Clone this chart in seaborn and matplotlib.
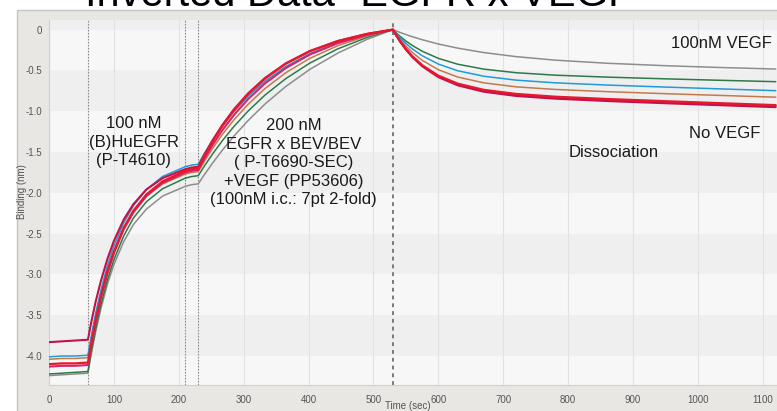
import matplotlib
matplotlib.use("Agg")
import matplotlib.pyplot as plt
import seaborn as sns
import pandas as pd
from matplotlib.patches import Rectangle
from matplotlib.ticker import MultipleLocator, FuncFormatter

# ---------------- data ----------------
time_sec = [0, 20, 40,
            60, 65, 72, 80, 90, 100, 115, 130, 150, 175, 210,
            220, 230,
            240, 252, 267, 285, 307, 333, 365, 402, 445, 490, 530,
            535, 542, 550, 560, 575, 600, 630, 670, 720, 780, 860, 950, 1030, 1120]

gray = [-4.24, -4.23, -4.22,
        -4.21, -3.98, -3.70, -3.42, -3.12, -2.88, -2.60, -2.39, -2.20, -2.04, -1.92,
        -1.90, -1.89,
        -1.771, -1.637, -1.479, -1.305, -1.113, -0.911, -0.696, -0.487, -0.288, -0.120, 0.0,
        -0.016, -0.037, -0.060, -0.087, -0.123, -0.176, -0.227, -0.281, -0.331, -0.374, -0.412, -0.442, -0.463, -0.483]

green = [-4.22, -4.21, -4.20,
         -4.19, -3.95, -3.66, -3.37, -3.07, -2.82, -2.53, -2.31, -2.11, -1.95, -1.82,
         -1.80, -1.79,
         -1.665, -1.525, -1.363, -1.187, -0.997, -0.801, -0.600, -0.410, -0.236, -0.096, 0.0,
         -0.039, -0.088, -0.139, -0.194, -0.264, -0.352, -0.424, -0.484, -0.528, -0.558, -0.582, -0.603, -0.620, -0.638]

blue = [-4.01, -4.00, -4.00,
        -3.99, -3.76, -3.47, -3.19, -2.89, -2.65, -2.37, -2.16, -1.96, -1.80, -1.68,
        -1.66, -1.65,
        -1.510, -1.357, -1.185, -1.004, -0.815, -0.631, -0.452, -0.294, -0.160, -0.062, 0.0,
        -0.047, -0.108, -0.169, -0.236, -0.319, -0.422, -0.504, -0.571, -0.619, -0.652, -0.679, -0.704, -0.725, -0.748]

orange = [-4.04, -4.03, -4.03,
          -4.02, -3.80, -3.52, -3.24, -2.95, -2.72, -2.44, -2.24, -2.04, -1.89, -1.77,
          -1.75, -1.74,
          -1.606, -1.457, -1.287, -1.106, -0.914, -0.721, -0.528, -0.352, -0.197, -0.078, 0.0,
          -0.057, -0.128, -0.201, -0.279, -0.375, -0.491, -0.581, -0.652, -0.701, -0.733, -0.760, -0.785, -0.805, -0.828]

magenta = [-4.13, -4.12, -4.12,
           -4.11, -3.87, -3.58, -3.29, -2.99, -2.74, -2.45, -2.24, -2.04, -1.88, -1.75,
           -1.73, -1.72,
           -1.575, -1.415, -1.235, -1.047, -0.850, -0.658, -0.471, -0.306, -0.167, -0.065, 0.0,
           -0.068, -0.153, -0.239, -0.330, -0.440, -0.571, -0.671, -0.747, -0.798, -0.832, -0.860, -0.887, -0.910, -0.935]

crimson = [-3.83, -3.82, -3.81,
           -3.80, -3.59, -3.33, -3.08, -2.81, -2.59, -2.33, -2.14, -1.96, -1.82, -1.71,
           -1.69, -1.68,
           -1.525, -1.357, -1.170, -0.977, -0.780, -0.592, -0.413, -0.262, -0.139, -0.052, 0.0,
           -0.069, -0.156, -0.243, -0.336, -0.448, -0.582, -0.683, -0.761, -0.813, -0.846, -0.875, -0.902, -0.925, -0.950]

red = [-4.10, -4.09, -4.09,
       -4.08, -3.85, -3.55, -3.27, -2.96, -2.72, -2.43, -2.22, -2.02, -1.86, -1.73,
       -1.71, -1.70,
       -1.543, -1.373, -1.184, -0.989, -0.789, -0.599, -0.418, -0.265, -0.141, -0.053, 0.0,
       -0.067, -0.151, -0.235, -0.326, -0.435, -0.564, -0.662, -0.738, -0.788, -0.822, -0.850, -0.877, -0.900, -0.925]

trace_names = ["gray", "green", "orange", "blue", "magenta", "crimson", "red"]
trace_values = [gray, green, orange, blue, magenta, crimson, red]
trace_colors = ["#8d8d8d", "#2d7a48", "#c27a4c", "#1f9bd8", "#d4246c", "#c3124a", "#e8182c"]
trace_widths = [1.1, 1.1, 1.1, 1.1, 1.5, 1.5, 1.6]

phase_lines = [60, 210, 230]
dissoc_line = 530

x_ticks = list(range(0, 1101, 100))
y_ticks = [0, -0.5, -1.0, -1.5, -2.0, -2.5, -3.0, -3.5, -4.0]

rows = []
for name, vals in zip(trace_names, trace_values):
    for t, v in zip(time_sec, vals):
        rows.append({"Time": t, "Binding": v, "trace": name})
df = pd.DataFrame(rows)

# ---------------- figure ----------------
sns.set_theme(style="white")
plt.rcParams["font.family"] = ["Liberation Sans", "DejaVu Sans"]

W, H = 777, 411
fig = plt.figure(figsize=(W / 100, H / 100), dpi=100)
fig.patch.set_facecolor("white")
frame = Rectangle((17 / W, -0.01), 1.02 - 17 / W, 1 - 10 / H + 0.01,
                  transform=fig.transFigure, facecolor="#e8e7e4",
                  edgecolor="#c4c4c4", lw=1.0, zorder=-5)
fig.patches.append(frame)

ax = fig.add_axes([49 / W, 26 / H, 1 - 49 / W, 365 / H])
ax.set_zorder(2)
ax.set_facecolor("#f4f4f4")
ax.set_xlim(0, 1122)
ax.set_ylim(-4.355, 0.118)

# alternating horizontal bands
for k in range(-1, 9):
    lo, hi = -0.5 * (k + 1), -0.5 * k
    ax.axhspan(lo, hi, color="#efefef" if k % 2 else "#f7f7f7", lw=0, zorder=0)
for xt in x_ticks:
    ax.axvline(xt, color="#e2e2e2", lw=0.8, zorder=0.5)

for xl in phase_lines:
    ax.axvline(xl, color="#8a8a8a", lw=0.8, ls=(0, (1.5, 1.2)), zorder=1)
ax.axvline(dissoc_line, color="#7a7a7a", lw=1.4, ls=(0, (2, 2)), zorder=1)

for name, col, lw in zip(trace_names, trace_colors, trace_widths):
    sub = df[df["trace"] == name]
    sns.lineplot(data=sub, x="Time", y="Binding", color=col, lw=lw, ax=ax,
                 estimator=None, sort=False, zorder=3)

ax.set_xlabel("")
ax.set_ylabel("")
ax.set_xticks(x_ticks)
ax.set_yticks(y_ticks)
ax.xaxis.set_minor_locator(MultipleLocator(20))
ax.yaxis.set_minor_locator(MultipleLocator(0.1))
ax.yaxis.set_major_formatter(FuncFormatter(lambda v, p: "0" if abs(v) < 1e-9 else f"{v:.1f}"))
ax.tick_params(axis="both", which="major", length=0, labelsize=7, labelcolor="#555555", pad=5)
ax.tick_params(axis="both", which="minor", direction="in", length=3, color="#b5b5b5", width=0.7)
ax.tick_params(axis="x", which="major", pad=7)
for s in ["top", "right"]:
    ax.spines[s].set_visible(False)
for s in ["left", "bottom"]:
    ax.spines[s].set_color("#d0d0d0")
    ax.spines[s].set_linewidth(0.8)

fig.text(22 / W, 1 - 192 / H, "Binding (nm)", rotation=90, ha="center", va="center",
         fontsize=7, color="#555555")
fig.text(408 / W, 1 - 406 / H, "Time (sec)", ha="center", va="center",
         fontsize=7, color="#555555")

fig.text(359 / W, 1 - 6 / H, "Inverted Data- EGFR x VEGF", ha="center", va="baseline",
         fontsize=30, color="black")

ann = dict(ha="center", va="center", fontsize=12, color="#1a1a1a", linespacing=1.3, zorder=5)
ax.text(131, -1.38, "100 nM\n(B)HuEGFR\n(P-T4610)", **ann)
ax.text(377, -1.63, "200 nM\nEGFR x BEV/BEV\n( P-T6690-SEC)\n+VEGF (PP53606)\n(100nM i.c.: 7pt 2-fold)", **ann)
ax.text(870, -1.50, "Dissociation", **ann)
ax.text(1041, -1.27, "No VEGF", **ann)
ax.text(1037, -0.164, "100nM VEGF", **ann)

fig.savefig("out.png", dpi=100)
